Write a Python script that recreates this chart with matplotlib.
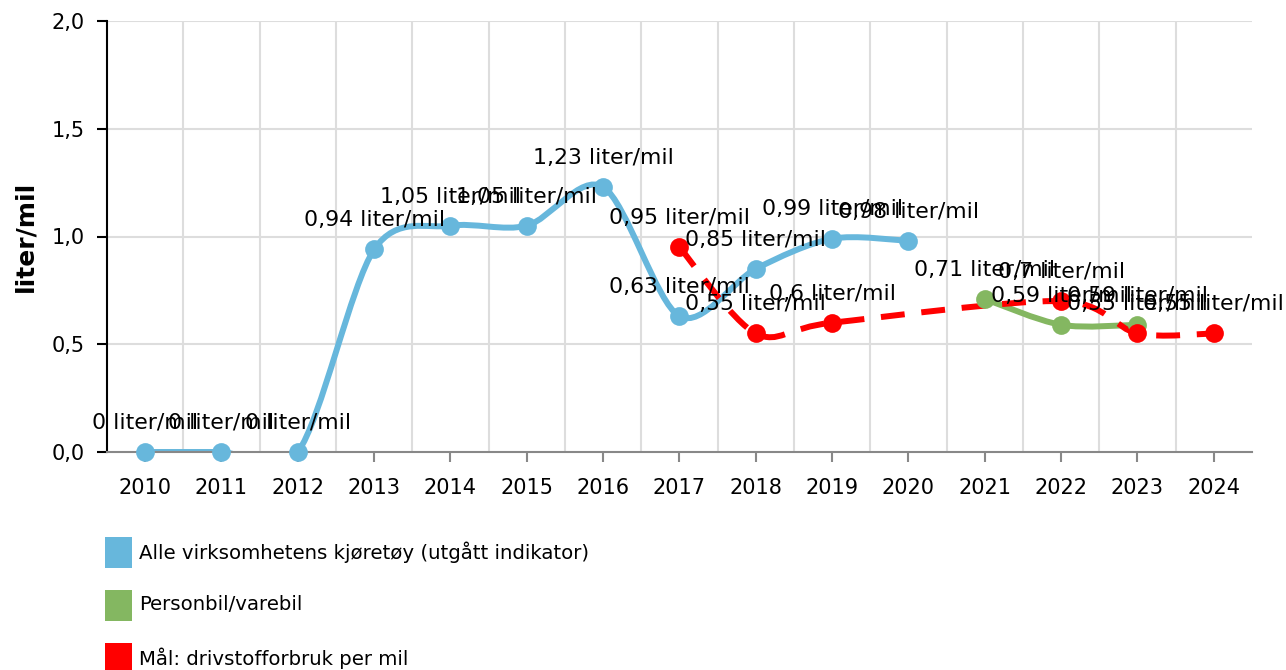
import matplotlib
matplotlib.use("Agg")
import matplotlib.pyplot as plt
from matplotlib.path import Path
from matplotlib.patches import PathPatch, Rectangle

# Data
years = list(range(2010, 2025))

alle_years = [2010, 2011, 2012, 2013, 2014, 2015, 2016, 2017, 2018, 2019, 2020]
alle_values = [0, 0, 0, 0.94, 1.05, 1.05, 1.23, 0.63, 0.85, 0.99, 0.98]

person_years = [2021, 2022, 2023]
person_values = [0.71, 0.59, 0.59]

maal_years = [2017, 2018, 2019, 2022, 2023, 2024]
maal_values = [0.95, 0.55, 0.6, 0.7, 0.55, 0.55]

series_names = ["Alle virksomhetens kjøretøy (utgått indikator)",
                "Personbil/varebil",
                "Mål: drivstofforbruk per mil"]
colors = ["#67b7dc", "#84b761", "#ff0000"]

W, H = 1286, 670
FS = 15


def spline_path(xs, ys, t=0.15):
    # Catmull-Rom style bezier through the points
    verts = [(xs[0], ys[0])]
    codes = [Path.MOVETO]
    n = len(xs)
    for i in range(n - 1):
        p0 = (xs[i - 1], ys[i - 1]) if i > 0 else (xs[i], ys[i])
        p1 = (xs[i], ys[i])
        p2 = (xs[i + 1], ys[i + 1])
        p3 = (xs[i + 2], ys[i + 2]) if i + 2 < n else p2
        c1 = (p1[0] + t * (p2[0] - p0[0]), p1[1] + t * (p2[1] - p0[1]))
        c2 = (p2[0] - t * (p3[0] - p1[0]), p2[1] - t * (p3[1] - p1[1]))
        verts += [c1, c2, p2]
        codes += [Path.CURVE4] * 3
    return Path(verts, codes)


def fmt(v):
    return f"{v:g}".replace(".", ",") + " liter/mil"


fig = plt.figure(figsize=(W / 100, H / 100), dpi=100)
ax = fig.add_axes([107 / W, 1 - 452 / H, (1252 - 107) / W, (452 - 21) / H])

ax.set_xlim(2009.5, 2024.5)
ax.set_ylim(0, 2.0)

# grid: horizontal at 0.5 steps, vertical between categories
for y in [0.5, 1.0, 1.5, 2.0]:
    ax.axhline(y, color="#dddddd", lw=1.5, zorder=0)
for x in range(2010, 2024):
    ax.axvline(x + 0.5, color="#dddddd", lw=1.5, zorder=0)

ax.set_xticks(years)
ax.set_xticklabels([str(y) for y in years], fontsize=FS)
ax.set_yticks([0, 0.5, 1.0, 1.5, 2.0])
ax.set_yticklabels(["0,0", "0,5", "1,0", "1,5", "2,0"], fontsize=FS)
ax.tick_params(axis="y", length=7, width=1.5, color="black", pad=9)
ax.tick_params(axis="x", length=7, width=1.5, color="#888888", pad=12)

for s in ["top", "right"]:
    ax.spines[s].set_visible(False)
ax.spines["left"].set_linewidth(1.5)
ax.spines["left"].set_color("black")
ax.spines["bottom"].set_linewidth(1.5)
ax.spines["bottom"].set_color("#888888")
ax.spines["bottom"].set_zorder(3)

ax.set_ylabel("liter/mil", fontsize=18, fontweight="bold", labelpad=10)

all_series = [(alle_years, alle_values, "-"),
              (person_years, person_values, "-"),
              (maal_years, maal_values, (0, (4, 2.8)))]

# lines first
for (xs, ys, ls), c in zip(all_series, colors):
    patch = PathPatch(spline_path(xs, ys), fill=False, edgecolor=c, lw=4.3,
                      linestyle=ls, capstyle="butt", zorder=2)
    ax.add_patch(patch)

# markers on top of all lines
for (xs, ys, ls), c in zip(all_series, colors):
    ax.plot(xs, ys, "o", color=c, markersize=13.5, markeredgewidth=0,
            clip_on=False, zorder=4)

# data labels
for xs, ys, ls in all_series:
    for x, y in zip(xs, ys):
        ax.annotate(fmt(y), (x, y), xytext=(0, 21), textcoords="offset points",
                    ha="center", va="center", fontsize=15.8, color="black",
                    zorder=6, annotation_clip=False)

# legend drawn as squares with text below the plot
legend_centers = [552, 605, 658]
for name, c, yc in zip(series_names, colors, legend_centers):
    fig.add_artist(Rectangle((105 / W, 1 - (yc + 15.5) / H), 27 / W, 31 / H,
                             transform=fig.transFigure, color=c, lw=0))
    fig.text(139 / W, 1 - yc / H, name, fontsize=14.2, va="center", ha="left")

fig.savefig("out.png", dpi=100)
